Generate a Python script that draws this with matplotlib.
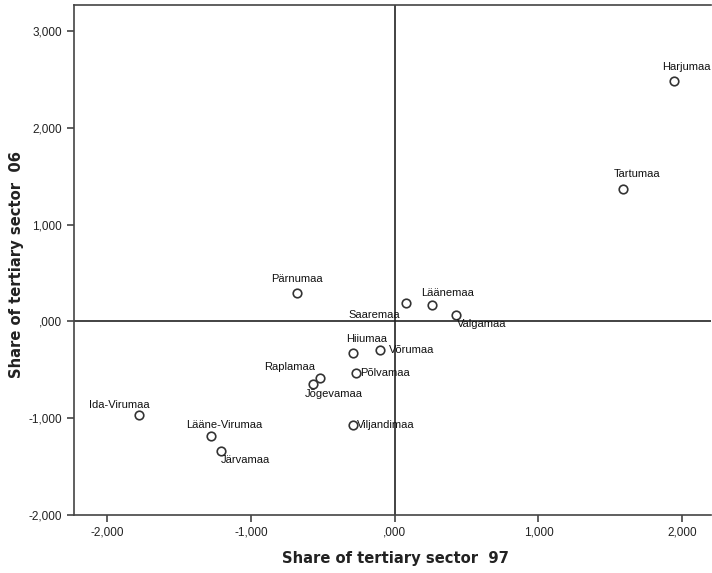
import matplotlib
matplotlib.use("Agg")
import matplotlib.pyplot as plt
from matplotlib.ticker import FuncFormatter, FixedLocator
from matplotlib import font_manager

counties = ["Harjumaa", "Tartumaa", "Pärnumaa", "Saaremaa", "Läänemaa", "Valgamaa",
            "Hiiumaa", "Võrumaa", "Põlvamaa", "Raplamaa", "Jõgevamaa", "Viljandimaa",
            "Ida-Virumaa", "Lääne-Virumaa", "Järvamaa"]
share97 = [1.94, 1.59, -0.68, 0.08, 0.26, 0.43,
           -0.29, -0.10, -0.27, -0.52, -0.57, -0.29,
           -1.78, -1.28, -1.21]
share06 = [2.48, 1.37, 0.29, 0.19, 0.17, 0.07,
           -0.33, -0.29, -0.53, -0.58, -0.65, -1.07,
           -0.97, -1.18, -1.34]
xticks = [-2, -1, 0, 1, 2]
yticks = [-2, -1, 0, 1, 2, 3]

# label offsets in points (dx, dy, ha, va)
offsets = {
    "Harjumaa": (9, 7, "center", "bottom"),
    "Tartumaa": (10, 7, "center", "bottom"),
    "Pärnumaa": (0, 7, "center", "bottom"),
    "Saaremaa": (-23, -5, "center", "top"),
    "Läänemaa": (11, 5, "center", "bottom"),
    "Valgamaa": (0, -3, "left", "top"),
    "Hiiumaa": (10, 7, "center", "bottom"),
    "Võrumaa": (6, 0, "left", "center"),
    "Põlvamaa": (3, 0, "left", "center"),
    "Raplamaa": (-22, 4, "center", "bottom"),
    "Jõgevamaa": (15, -3, "center", "top"),
    "Viljandimaa": (3, 0, "left", "center"),
    "Ida-Virumaa": (-14, 4, "center", "bottom"),
    "Lääne-Virumaa": (10, 4, "center", "bottom"),
    "Järvamaa": (0, -3, "left", "top"),
}

plt.rcParams['font.family'] = ['Liberation Sans', 'DejaVu Sans']

names = {f.name for f in font_manager.fontManager.ttflist}
if 'Liberation Sans Narrow' in names:
    label_font = dict(family=['Liberation Sans Narrow', 'Liberation Sans'], fontsize=13)
else:
    label_font = dict(family=['DejaVu Sans'], fontstretch='condensed', fontsize=11.8)

fig = plt.figure(figsize=(7.12, 5.73), dpi=100)
ax = fig.add_axes([74/712, 58/573, (711-74)/712, (515-5)/573])

ax.set_xlim(-2.23, 2.20)
ax.set_ylim(-2.0, 3.27)

ax.axhline(0, color="#222222", lw=1.2, zorder=1)
ax.axvline(0, color="#222222", lw=1.2, zorder=1)

ax.scatter(share97, share06, s=38, facecolors="white", edgecolors="#333333",
           linewidths=1.2, zorder=3)

for name, x, y in zip(counties, share97, share06):
    dx, dy, ha, va = offsets[name]
    ax.annotate(name, (x, y), xytext=(dx, dy), textcoords="offset points",
                ha=ha, va=va, fontsize=8, color="#111111", zorder=4)

def fmt(v, pos):
    s = "{:.3f}".format(v).replace(".", ",")
    if s in ("0,000", "-0,000"):
        s = ",000"
    return s

ax.xaxis.set_major_locator(FixedLocator(xticks))
ax.yaxis.set_major_locator(FixedLocator(yticks))
ax.xaxis.set_major_formatter(FuncFormatter(fmt))
ax.yaxis.set_major_formatter(FuncFormatter(fmt))
ax.tick_params(axis="both", direction="out", length=5, width=1.2,
               color="#444444", labelsize=8.5, labelcolor="#222222")

for side in ["left", "bottom", "top"]:
    ax.spines[side].set_color("#444444")
    ax.spines[side].set_linewidth(1.2)
ax.spines["right"].set_visible(False)

ax.set_xlabel("Share of tertiary sector  97", fontweight="bold",
              color="#222222", **label_font)
ax.set_ylabel("Share of tertiary sector  06", fontweight="bold",
              color="#222222", **label_font)
ax.xaxis.set_label_coords((395 - 74) / 637, -(551 - 515) / 510)
ax.yaxis.set_label_coords(-(74 - 24) / 637, (515 - 264) / 510)

fig.savefig("out.png", dpi=100)
